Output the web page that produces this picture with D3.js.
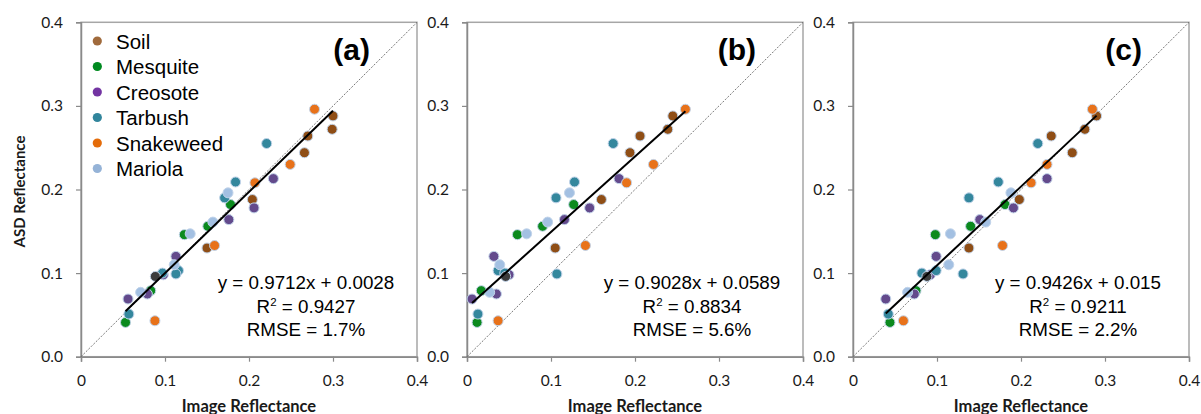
<!DOCTYPE html>
<html>
<head>
<meta charset="utf-8">
<script src="https://cdn.jsdelivr.net/npm/d3@7"></script>
<style>
  html, body { margin: 0; padding: 0; background: #fff; }
  svg { display: block; }
</style>
</head>
<body>
<svg id="chart" width="1201" height="414"></svg>
<script>
// ---------------- DATA ----------------
const seriesNames = ["Soil", "Mesquite", "Creosote", "Tarbush", "Snakeweed", "Mariola"];
const panelLabels = ["(a)", "(b)", "(c)"];
const xTickValues = [0, 0.1, 0.2, 0.3, 0.4];
const yTickValues = [0, 0.1, 0.2, 0.3, 0.4];

// ASD reflectance (y) is shared by all three panels
const soilY      = [0.288, 0.272, 0.264, 0.244, 0.188, 0.130];
const soilXa     = [0.300, 0.299, 0.270, 0.266, 0.204, 0.150];
const soilXb     = [0.245, 0.239, 0.206, 0.194, 0.160, 0.105];
const soilXc     = [0.290, 0.276, 0.236, 0.261, 0.198, 0.138];

const mesquiteY  = [0.182, 0.156, 0.146, 0.079, 0.041];
const mesquiteXa = [0.178, 0.151, 0.123, 0.083, 0.053];
const mesquiteXb = [0.127, 0.090, 0.060, 0.017, 0.012];
const mesquiteXc = [0.181, 0.140, 0.098, 0.075, 0.044];

const creosoteY  = [0.213, 0.178, 0.164, 0.120, 0.098, 0.075, 0.069];
const creosoteXa = [0.229, 0.206, 0.176, 0.113, 0.098, 0.079, 0.056];
const creosoteXb = [0.181, 0.146, 0.116, 0.032, 0.050, 0.035, 0.006];
const creosoteXc = [0.231, 0.191, 0.151, 0.099, 0.092, 0.073, 0.039];

const tarbushY   = [0.255, 0.209, 0.190, 0.103, 0.099, 0.100, 0.051];
const tarbushXa  = [0.221, 0.184, 0.171, 0.116, 0.113, 0.097, 0.057];
const tarbushXb  = [0.174, 0.128, 0.106, 0.037, 0.107, 0.045, 0.013];
const tarbushXc  = [0.220, 0.173, 0.138, 0.099, 0.131, 0.082, 0.042];

const snakeweedY  = [0.296, 0.230, 0.208, 0.133, 0.043];
const snakeweedXa = [0.278, 0.249, 0.207, 0.159, 0.088];
const snakeweedXb = [0.260, 0.222, 0.190, 0.141, 0.037];
const snakeweedXc = [0.285, 0.231, 0.212, 0.178, 0.060];

const mariolaY   = [0.196, 0.161, 0.147, 0.110, 0.077];
const mariolaXa  = [0.175, 0.157, 0.130, 0.111, 0.071];
const mariolaXb  = [0.122, 0.096, 0.071, 0.039, 0.027];
const mariolaXc  = [0.188, 0.158, 0.116, 0.114, 0.065];

// overlapping dark marker (not in legend)
const otherY  = [0.096];
const otherXa = [0.0885];
const otherXb = [0.046];
const otherXc = [0.088];

// regression fits per panel
const fitSlope     = [0.9712, 0.9028, 0.9426];
const fitIntercept = [0.0028, 0.0589, 0.015];
const eqTexts   = ["y = 0.9712x + 0.0028", "y = 0.9028x + 0.0589", "y = 0.9426x + 0.015"];
const r2Texts   = ["0.9427", "0.8834", "0.9211"];
const rmseTexts = ["RMSE = 1.7%", "RMSE = 5.6%", "RMSE = 2.2%"];

// ---------------- STYLE ----------------
const markerColors = {
  Soil: "#8f4e16", Mesquite: "#0b8a1e", Creosote: "#634a8c",
  Tarbush: "#34879d", Snakeweed: "#e8721a", Mariola: "#a3c0e2", Other: "#3c3c3c"
};
const legendColors = {
  Soil: "#a06a3c", Mesquite: "#008a20", Creosote: "#7334a2",
  Tarbush: "#31859c", Snakeweed: "#e46c0a", Mariola: "#95b3d7"
};

const ys = { Soil: soilY, Mesquite: mesquiteY, Creosote: creosoteY, Tarbush: tarbushY, Snakeweed: snakeweedY, Mariola: mariolaY, Other: otherY };
const xs = [
  { Soil: soilXa, Mesquite: mesquiteXa, Creosote: creosoteXa, Tarbush: tarbushXa, Snakeweed: snakeweedXa, Mariola: mariolaXa, Other: otherXa },
  { Soil: soilXb, Mesquite: mesquiteXb, Creosote: creosoteXb, Tarbush: tarbushXb, Snakeweed: snakeweedXb, Mariola: mariolaXb, Other: otherXb },
  { Soil: soilXc, Mesquite: mesquiteXc, Creosote: creosoteXc, Tarbush: tarbushXc, Snakeweed: snakeweedXc, Mariola: mariolaXc, Other: otherXc }
];
const drawOrder = ["Soil", "Mesquite", "Creosote", "Tarbush", "Snakeweed", "Mariola", "Other"];

const svg = d3.select("#chart");
const panelLefts = [81, 467, 853];
const plotW = 336, plotTop = 22.3, plotBottom = 356.7;
const axisColor = "#8a8a8a";
const tickFont = "Lato, 'Open Sans', sans-serif";
const arial = "'Liberation Sans', Arial, sans-serif";

panelLabels.forEach((lab, p) => {
  const left = panelLefts[p];
  const x = d3.scaleLinear().domain([0, 0.4]).range([left, left + plotW]);
  const y = d3.scaleLinear().domain([0, 0.4]).range([plotBottom, plotTop]);
  const g = svg.append("g");

  // plot frame
  g.append("rect").attr("x", left).attr("y", plotTop).attr("width", plotW).attr("height", plotBottom - plotTop)
    .attr("fill", "none").attr("stroke", "#a6a6a6").attr("stroke-width", 1.5);

  // axes
  const xAxis = d3.axisBottom(x).tickValues(xTickValues).tickSize(5).tickPadding(13)
    .tickFormat(d => d === 0 ? "0" : d3.format(".1f")(d));
  const yAxis = d3.axisLeft(y).tickValues(yTickValues).tickSize(5).tickPadding(13)
    .tickFormat(d3.format(".1f"));
  const gx = g.append("g").attr("transform", `translate(0,${plotBottom})`).call(xAxis);
  const gy = g.append("g").attr("transform", `translate(${left},0)`).call(yAxis);
  [gx, gy].forEach(a => {
    a.select(".domain").attr("stroke", axisColor).attr("stroke-width", 1.5);
    a.selectAll(".tick line").attr("stroke", axisColor).attr("stroke-width", 1.2);
    a.selectAll(".tick text").attr("fill", "#1a1a1a").style("font-family", tickFont).style("font-size", "15.5px");
  });

  // 1:1 line
  g.append("line").attr("x1", x(0)).attr("y1", y(0)).attr("x2", x(0.4)).attr("y2", y(0.4))
    .attr("stroke", "#555").attr("stroke-width", 0.8).attr("stroke-dasharray", "2,1.5");

  // points
  drawOrder.forEach(s => {
    const pts = ys[s].map((v, i) => ({ x: xs[p][s][i], y: v }));
    g.append("g").selectAll("circle").data(pts).join("circle")
      .attr("cx", d => x(d.x)).attr("cy", d => y(d.y)).attr("r", 5)
      .attr("fill", markerColors[s]).attr("stroke", "#c2d4ea").attr("stroke-width", 1);
  });

  // regression line over data range
  const allX = drawOrder.flatMap(s => xs[p][s]);
  const x0 = d3.min(allX), x1 = d3.max(allX);
  g.append("line")
    .attr("x1", x(x0)).attr("y1", y(fitSlope[p] * x0 + fitIntercept[p]))
    .attr("x2", x(x1)).attr("y2", y(fitSlope[p] * x1 + fitIntercept[p]))
    .attr("stroke", "#000").attr("stroke-width", 2);

  // panel label
  g.append("text").attr("x", left + plotW - 47).attr("y", 60).attr("text-anchor", "end")
    .style("font-family", arial).style("font-weight", "bold").style("font-size", "30px").attr("fill", "#000")
    .text(lab);

  // equation block
  const cx = left + 225;
  const eq = g.append("g").style("font-family", arial).style("font-size", "18.8px").attr("fill", "#000").attr("text-anchor", "middle");
  eq.append("text").attr("x", cx).attr("y", 289).text(eqTexts[p]);
  const r2 = eq.append("text").attr("x", cx).attr("y", 312.5);
  r2.append("tspan").text("R");
  r2.append("tspan").attr("dy", -7).style("font-size", "11.5px").text("2");
  r2.append("tspan").attr("dy", 7).text(" = " + r2Texts[p]);
  eq.append("text").attr("x", cx).attr("y", 335.5).text(rmseTexts[p]);

  // x-axis title
  g.append("text").attr("x", left + plotW / 2).attr("y", 411.5).attr("text-anchor", "middle")
    .style("font-family", tickFont).style("font-weight", "bold").style("font-size", "16.5px").attr("fill", "#1a1a1a")
    .text("Image Reflectance");
});

// y-axis title (only first panel)
svg.append("text").attr("transform", `translate(25,${(plotTop + plotBottom) / 2 + 2}) rotate(-90)`).attr("text-anchor", "middle")
  .style("font-family", tickFont).style("font-weight", "bold").style("font-size", "15px").attr("fill", "#1a1a1a")
  .text("ASD Reflectance");

// legend in panel (a)
const legend = svg.append("g");
seriesNames.forEach((s, i) => {
  const ry = 41 + i * 25.5;
  legend.append("circle").attr("cx", 97.3).attr("cy", ry).attr("r", 4.6).attr("fill", legendColors[s]);
  legend.append("text").attr("x", 116).attr("y", ry + 7.5)
    .style("font-family", arial).style("font-size", "20.5px").attr("fill", "#000").text(s);
});
</script>
</body>
</html>
